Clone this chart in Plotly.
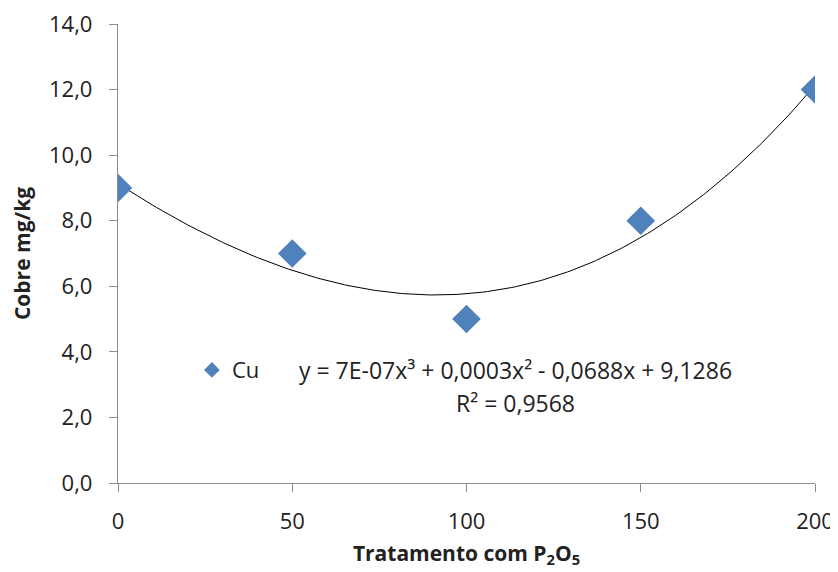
import numpy as np
import plotly.graph_objects as go

# Data
x_vals = [0, 50, 100, 150, 200]
cu_vals = [9.0, 7.0, 5.0, 8.0, 12.0]
y_ticks = [0, 2, 4, 6, 8, 10, 12, 14]
y_tick_labels = ["0,0", "2,0", "4,0", "6,0", "8,0", "10,0", "12,0", "14,0"]
x_ticks = [0, 50, 100, 150, 200]
x_tick_labels = ["0", "50", "100", "150", "200"]

# Cubic trendline fit from data
coef = np.polyfit(x_vals, cu_vals, 3)
xs = np.linspace(0, 200, 201)
ys = np.polyval(coef, xs)

font_family = "Open Sans, Liberation Sans, sans-serif"

fig = go.Figure()
fig.add_trace(go.Scatter(x=xs, y=ys, mode="lines", line=dict(color="#000000", width=1),
                         showlegend=False, hoverinfo="skip"))
fig.add_trace(go.Scatter(x=x_vals, y=cu_vals, mode="markers", name="Cu",
                         marker=dict(symbol="diamond", size=22, color="#4F81BD",
                                     line=dict(width=0))))

fig.add_annotation(x=0.571, y=0.246, xref="paper", yref="paper", showarrow=False,
                   text="y = 7E-07x³ + 0,0003x² - 0,0688x + 9,1286",
                   xanchor="center", yanchor="middle",
                   font=dict(family=font_family, size=23, color="#222222"))
fig.add_annotation(x=0.571, y=0.174, xref="paper", yref="paper", showarrow=False,
                   text="R² = 0,9568",
                   xanchor="center", yanchor="middle",
                   font=dict(family=font_family, size=23, color="#222222"))

fig.update_layout(
    width=830, height=564,
    margin=dict(l=110, r=23, t=16, b=89),
    paper_bgcolor="white", plot_bgcolor="white",
    font=dict(family=font_family, size=22, color="#222222"),
    legend=dict(x=0.106, y=0.246, xanchor="left", yanchor="middle",
                bgcolor="rgba(0,0,0,0)", font=dict(size=22), itemsizing="constant"),
    showlegend=True,
)
fig.update_xaxes(range=[0, 200], tickvals=x_ticks, ticktext=x_tick_labels, automargin=False,
                 ticklabeloverflow="allow",
                 showgrid=False, zeroline=False, showline=True, linecolor="#8c8c8c", linewidth=1.3,
                 ticks="outside", ticklen=8, tickcolor="#8c8c8c", ticklabelstandoff=10,
                 title=dict(text="<b>Tratamento com P<sub>2</sub>O<sub>5</sub></b>", font=dict(size=21), standoff=12))
fig.update_yaxes(range=[0, 14], tickvals=y_ticks, ticktext=y_tick_labels, automargin=False,
                 ticklabeloverflow="allow",
                 showgrid=False, zeroline=False, showline=True, linecolor="#8c8c8c", linewidth=1.3,
                 ticks="outside", ticklen=8, tickcolor="#8c8c8c", ticklabelstandoff=12,
                 title=dict(text="<b>Cobre mg/kg</b>", font=dict(size=21), standoff=12))

fig.write_html("out.html")
